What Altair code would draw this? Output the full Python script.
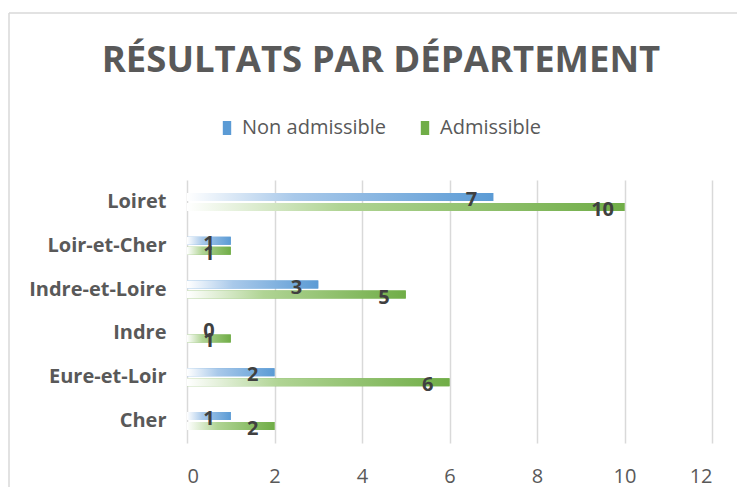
import altair as alt
import pandas as pd

departements = ["Loiret", "Loir-et-Cher", "Indre-et-Loire", "Indre", "Eure-et-Loir", "Cher"]
non_admissible = [7, 1, 3, 0, 2, 1]
admissible = [10, 1, 5, 1, 6, 2]
series = ["Non admissible", "Admissible"]
colors = ["#5b9bd5", "#70ad47"]
light_colors = ["#a9c9ea", "#b0d494"]
x_ticks = [0, 2, 4, 6, 8, 10, 12]
title_text = "RÉSULTATS PAR DÉPARTEMENT"

rows = []
for d, a, b in zip(departements, non_admissible, admissible):
    rows.append({"dep": d, "serie": series[0], "v": a})
    rows.append({"dep": d, "serie": series[1], "v": b})
df = pd.DataFrame(rows)

FONT = "Open Sans"
GRAY = "#595959"

y_enc = alt.Y(
    "dep:N", sort=departements,
    scale=alt.Scale(paddingInner=0.59, paddingOuter=0.295),
    axis=alt.Axis(title=None, labelFont=FONT, labelFontSize=20, labelFontWeight="bold",
                  labelColor=GRAY, labelPadding=21, ticks=False, domain=False, grid=False),
)
y_plain = alt.Y("dep:N", sort=departements)
yoff = alt.YOffset("serie:N", sort=series,
                   scale=alt.Scale(domain=series, paddingInner=0.2, paddingOuter=0))
yoff_plain = alt.YOffset("serie:N", sort=series)
x_enc = alt.X(
    "v:Q", scale=alt.Scale(domain=[0, 12], nice=False),
    axis=alt.Axis(title=None, values=x_ticks, labelFont=FONT, labelFontSize=20,
                  labelColor=GRAY, labelPadding=23, ticks=False, domain=False,
                  grid=True, gridColor="#d9d9d9", gridWidth=1.5),
)

base = alt.Chart(df)

flat = base.mark_bar().encode(
    x=x_enc, y=y_enc, yOffset=yoff,
    color=alt.Color(
        "serie:N", sort=series,
        scale=alt.Scale(domain=series, range=colors),
        legend=alt.Legend(
            title=None, orient="none", legendX=30, legendY=-62, direction="horizontal",
            symbolType="M-0.6,-1H0.6V1H-0.6Z", symbolSize=196, symbolStrokeWidth=0,
            labelFont=FONT, labelFontSize=20, labelColor=GRAY, labelOffset=5,
            columnPadding=28, padding=0,
        ),
    ),
)


def grad(i):
    return alt.Gradient(
        gradient="linear",
        stops=[
            alt.GradientStop(color="#ffffff", offset=0),
            alt.GradientStop(color=light_colors[i], offset=0.35),
            alt.GradientStop(color=colors[i], offset=1),
        ],
        x1=0, x2=1, y1=0, y2=0,
    )


grad_layers = [
    base.transform_filter(alt.datum.serie == s)
    .mark_bar(color=grad(i))
    .encode(x="v:Q", y=y_plain, yOffset=yoff_plain)
    for i, s in enumerate(series)
]

labels = base.transform_calculate(lx="max(datum.v - 0.5, 0.5)").mark_text(
    font=FONT, fontSize=20, fontWeight="bold", color="#404040",
    baseline="middle", align="center", dy=3,
).encode(x="lx:Q", y=y_plain, yOffset=yoff_plain, text="v:Q")

one = pd.DataFrame({"t": [title_text]})
frame_left = alt.Chart(one).mark_rule(color="#d9d9d9", strokeWidth=1.5).encode(
    x=alt.value(-178), y=alt.value(-167), y2=alt.value(400))
frame_top = alt.Chart(one).mark_rule(color="#d9d9d9", strokeWidth=1.5).encode(
    x=alt.value(-178), x2=alt.value(700), y=alt.value(-167))
title = alt.Chart(one).mark_text(
    font=FONT, fontSize=36.5, fontWeight="bold", color=GRAY,
    align="center", baseline="alphabetic",
).encode(x=alt.value(194), y=alt.value(-108), text="t:N")

chart = alt.layer(frame_left, frame_top, title, flat, *grad_layers, labels).properties(
    width=525, height=263,
    autosize=alt.AutoSizeParams(type="none"),
    padding={"left": 179, "top": 172, "right": 25, "bottom": 44},
).configure_view(stroke=None)

chart.save("out.html", embed_options={"renderer": "svg", "actions": False})
